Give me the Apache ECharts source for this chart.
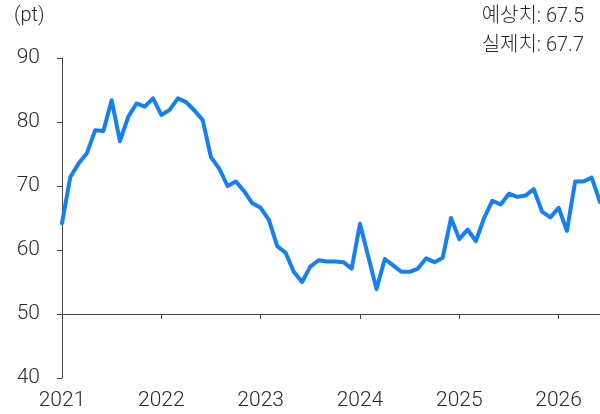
<!DOCTYPE html>
<html><head><meta charset="utf-8">
<script src="https://cdn.jsdelivr.net/npm/echarts@6/dist/echarts.min.js"></script>
<style>html,body{margin:0;padding:0;background:#fff}#c{width:600px;height:414px}</style>
</head><body><div id="c"></div>
<script>
const years = ['2021','2022','2023','2024','2025','2026'];
const months = ['01','02','03','04','05','06','07','08','09','10','11','12'];
const values = [
  64.2, 71.4, 73.5, 75.1, 78.7, 78.6, 83.4, 77.0, 80.8, 82.9, 82.4, 83.7,
  81.1, 81.9, 83.7, 83.1, 81.8, 80.3, 74.5, 72.7, 70.0, 70.7, 69.2, 67.3,
  66.6, 64.7, 60.6, 59.6, 56.6, 55.0, 57.4, 58.4, 58.2, 58.2, 58.1, 57.1,
  64.1, 59.0, 53.9, 58.6, 57.6, 56.6, 56.6, 57.1, 58.7, 58.1, 58.8, 65.0,
  61.7, 63.2, 61.4, 65.0, 67.7, 67.1, 68.8, 68.3, 68.5, 69.5, 66.0, 65.1,
  66.6, 63.0, 70.7, 70.7, 71.3, 67.5
];
const yTicks = [40, 50, 60, 70, 80, 90];
const unitLabel = '(pt)';
const noteLines = ['예상치: 67.5', '실제치: 67.7'];

const categories = [];
for (let i = 0; i < values.length; i++) {
  categories.push(years[Math.floor(i / 12)] + '-' + months[i % 12]);
}
const isYearStart = (idx) => idx % 12 === 0;
const FONT = 'Roboto, "Noto Sans CJK KR", sans-serif';
const TXT = '#2a2a2a';
const AX = '#444444';
const W = 300;

const chart = echarts.init(document.getElementById('c'), null, {renderer: 'canvas'});
chart.setOption({
  animation: false,
  backgroundColor: '#ffffff',
  textStyle: {fontFamily: FONT},
  grid: {left: 62, right: 0, top: 58, bottom: 36, containLabel: false},
  graphic: [
    {type: 'text', left: 14, top: 6, style: {text: unitLabel, fontSize: 20, fontWeight: W, fill: TXT, fontFamily: FONT}},
    {type: 'text', right: 16, top: 7, style: {text: noteLines[0], fontSize: 20, fontWeight: W, fill: TXT, fontFamily: FONT, align: 'right'}},
    {type: 'text', right: 16, top: 36, style: {text: noteLines[1], fontSize: 20, fontWeight: W, fill: TXT, fontFamily: FONT, align: 'right'}}
  ],
  xAxis: [
    {
      type: 'category', data: categories, boundaryGap: false, position: 'bottom',
      offset: -64,
      axisLine: {show: true, onZero: false, lineStyle: {color: AX, width: 1}},
      axisTick: {show: true, length: 5, interval: (idx) => isYearStart(idx), lineStyle: {color: AX}},
      axisLabel: {show: false},
      splitLine: {show: false}
    },
    {
      type: 'category', data: categories, boundaryGap: false, position: 'bottom',
      axisLine: {show: false}, axisTick: {show: false},
      axisLabel: {
        show: true, interval: (idx) => isYearStart(idx), margin: 12,
        fontSize: 21, fontWeight: W, color: TXT, fontFamily: FONT,
        formatter: (v) => v.slice(0, 4)
      },
      splitLine: {show: false}
    }
  ],
  yAxis: {
    type: 'value', min: yTicks[0], max: yTicks[yTicks.length - 1], interval: 10,
    axisLine: {show: true, lineStyle: {color: AX, width: 1}},
    axisTick: {show: true, length: 5, lineStyle: {color: AX}},
    axisLabel: {margin: 22, fontSize: 21, fontWeight: W, color: TXT, fontFamily: FONT},
    splitLine: {show: false}
  },
  series: [{
    type: 'line', data: values, xAxisIndex: 0, showSymbol: false, smooth: false,
    lineStyle: {color: '#1580ef', width: 4, join: 'round', cap: 'round'},
    itemStyle: {color: '#1580ef'}
  }]
});
</script></body></html>
